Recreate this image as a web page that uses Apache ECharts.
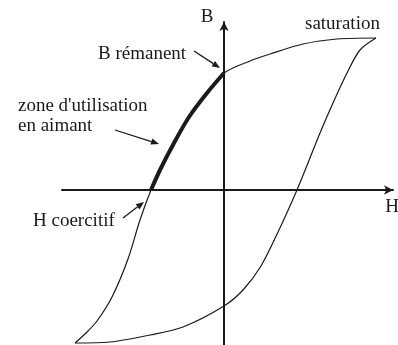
<!DOCTYPE html>
<html>
<head>
<meta charset="utf-8">
<script src="https://cdn.jsdelivr.net/npm/echarts@6/dist/echarts.min.js"></script>
<style>
  html, body { margin: 0; padding: 0; background: #fff; }
  #main { width: 398px; height: 345px; }
</style>
</head>
<body>
<div id="main"></div>
<script>
// cycle d'hystérésis, points (H, B) (unités arbitraires)
// branche descendante : de la saturation jusqu'au coin bas gauche
const upperBranch = [[1.52, 1.52], [1.13, 1.51], [0.79, 1.46], [0.46, 1.36], [0.26, 1.29], [0, 1.17],
  [-0.17, 0.97], [-0.35, 0.73], [-0.50, 0.47], [-0.64, 0.20], [-0.73, 0],
  [-0.84, -0.30], [-0.96, -0.69], [-1.12, -1.07], [-1.27, -1.31], [-1.38, -1.43], [-1.49, -1.53]];
// branche montante
const lowerBranch = [[-1.49, -1.53], [-1.14, -1.52], [-0.74, -1.45], [-0.41, -1.37], [0, -1.16], [0.19, -1.00], [0.37, -0.76],
  [0.55, -0.40], [0.73, 0], [0.84, 0.27], [0.96, 0.57], [1.09, 0.87], [1.23, 1.17], [1.36, 1.40], [1.52, 1.52]];
const hRange = [-1.62, 1.69];
const bRange = [-1.55, 1.68];

// zone d'utilisation en aimant : entre B rémanent et H coercitif (2e quadrant)
const magnetZone = upperBranch.filter(p => p[0] <= 0 && p[1] >= 0);

const serif = '"Liberation Serif", "DejaVu Serif", serif';
const ink = '#1a1a1a';

function label(text, x, y, align) {
  return {
    type: 'text', x: x, y: y,
    style: { text: text, fill: ink, fontSize: 19, fontFamily: serif, textAlign: align || 'left', textVerticalAlign: 'middle' }
  };
}

// petite flèche d'annotation
function arrow(x1, y1, x2, y2) {
  const a = Math.atan2(y2 - y1, x2 - x1), len = 8, w = 3.2;
  const bx = x2 - len * Math.cos(a), by = y2 - len * Math.sin(a);
  return [
    { type: 'line', shape: { x1: x1, y1: y1, x2: bx, y2: by }, style: { stroke: ink, lineWidth: 1.3 } },
    {
      type: 'polygon',
      shape: { points: [[x2, y2], [bx + w * Math.sin(a), by - w * Math.cos(a)], [bx - w * Math.sin(a), by + w * Math.cos(a)]] },
      style: { fill: ink }
    }
  ];
}

function curve(data, width) {
  return {
    type: 'line',
    data: data,
    smooth: 0.3,
    symbol: 'none',
    silent: true,
    lineStyle: { color: ink, width: width }
  };
}

const axisCommon = {
  type: 'value',
  axisLine: {
    show: true,
    onZero: true,
    symbol: ['none', 'arrow'],
    symbolSize: [7, 9],
    lineStyle: { color: ink, width: 2 }
  },
  axisTick: { show: false },
  axisLabel: { show: false },
  splitLine: { show: false }
};

const myEChart = echarts.init(document.getElementById('main'));
const option = {
  backgroundColor: '#fff',
  animation: false,
  grid: { left: 62, right: 5, top: 22, bottom: 0 },
  xAxis: Object.assign({}, axisCommon, { min: hRange[0], max: hRange[1] }),
  yAxis: Object.assign({}, axisCommon, { min: bRange[0], max: bRange[1] }),
  series: [
    curve(upperBranch, 1.2),
    curve(lowerBranch, 1.2),
    curve(magnetZone, 4)
  ],
  graphic: [
    label('B', 207, 17, 'center'),
    label('H', 392, 207, 'center'),
    label('saturation', 305, 24),
    label('B rémanent', 98, 54),
    label('zone d\'utilisation', 18, 106),
    label('en aimant', 18, 126),
    label('H coercitif', 33, 221)
  ].concat(arrow(194, 51, 220, 68), arrow(115, 130, 159, 144), arrow(123, 218, 144, 202))
};
myEChart.setOption(option);
</script>
</body>
</html>
